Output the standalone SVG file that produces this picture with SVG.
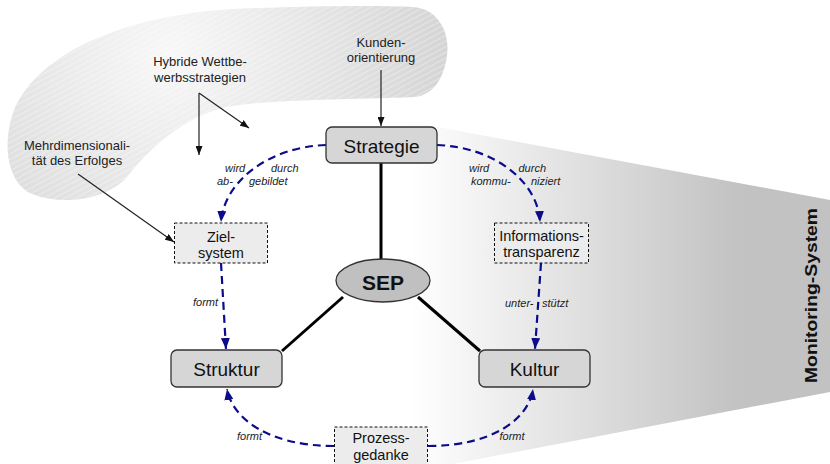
<svg xmlns="http://www.w3.org/2000/svg" width="830" height="464" viewBox="0 0 830 464">
  <defs>
    <linearGradient id="wedgeFill" gradientUnits="userSpaceOnUse" x1="410" y1="0" x2="740" y2="0">
      <stop offset="0" stop-color="#ffffff"/>
      <stop offset="1" stop-color="#c2c2c2"/>
    </linearGradient>
    <radialGradient id="cloudFill" gradientUnits="userSpaceOnUse" cx="170" cy="55" r="300">
      <stop offset="0" stop-color="#f8f8f8"/>
      <stop offset="1" stop-color="#d2d2d2"/>
    </radialGradient>
    <pattern id="cloudStripes" width="5" height="5" patternUnits="userSpaceOnUse" patternTransform="rotate(-28)">
      <line x1="0" y1="0.5" x2="5" y2="0.5" stroke="#ffffff" stroke-opacity="0.45" stroke-width="0.8"/>
    </pattern>
    <marker id="blueHead" markerUnits="userSpaceOnUse" markerWidth="11" markerHeight="9" refX="11" refY="4.5" orient="auto">
      <path d="M0,0 L11,4.5 L0,9 z" fill="#0c0c8a"/>
    </marker>
    <marker id="blackHead" markerUnits="userSpaceOnUse" markerWidth="9" markerHeight="7" refX="9" refY="3.5" orient="auto">
      <path d="M0,0 L9,3.5 L0,7 z" fill="#111"/>
    </marker>
  </defs>
  <style>
    .lbl { font-family: "Liberation Sans", Arial, sans-serif; font-size: 13px; fill: #222; text-anchor: middle; }
    .small { font-family: "Liberation Sans", Arial, sans-serif; font-size: 11px; font-style: italic; fill: #222; }
    .core rect { fill: #d6d6d6; stroke: #333; stroke-width: 1.3; }
    .core text { font-family: "Liberation Sans", Arial, sans-serif; font-size: 19px; fill: #111; text-anchor: middle; }
    .aux rect { fill: #ececec; stroke: #111; stroke-width: 1; stroke-dasharray: 3 2; }
    .aux text { font-family: "Liberation Sans", Arial, sans-serif; font-size: 14.5px; fill: #111; text-anchor: middle; }
    .flow { fill: none; stroke: #0c0c8a; stroke-width: 2.2; stroke-dasharray: 8 5; marker-end: url(#blueHead); }
    .pointer { fill: none; stroke: #222; stroke-width: 1.2; marker-end: url(#blackHead); }
    .spoke { fill: none; stroke: #000; stroke-width: 3; }
  </style>

  <!-- monitoring wedge on the right -->
  <g id="monitoring">
    <polygon points="400,120 830,200 830,392 400,474" fill="url(#wedgeFill)"/>
    <text transform="translate(817,295.5) rotate(-90)" font-family="'Liberation Sans', Arial, sans-serif" font-size="17" font-weight="bold" fill="#111" text-anchor="middle" textLength="175" lengthAdjust="spacingAndGlyphs">Monitoring-System</text>
  </g>

  <!-- influence cloud -->
  <g id="cloud">
    <path d="M233,9 C300,6 380,5 413,7 C440,9 450,35 447,55 C444,80 432,95 415,97 C330,100 262,100 226,107 C182,118 150,148 126,178 C106,200 62,206 32,194 C6,182 2,142 14,110 C40,50 130,15 233,9 Z" fill="url(#cloudFill)"/>
    <path d="M233,9 C300,6 380,5 413,7 C440,9 450,35 447,55 C444,80 432,95 415,97 C330,100 262,100 226,107 C182,118 150,148 126,178 C106,200 62,206 32,194 C6,182 2,142 14,110 C40,50 130,15 233,9 Z" fill="url(#cloudStripes)"/>
  </g>

  <!-- influence labels -->
  <g id="kundenorientierung">
    <text class="lbl" x="381" y="47">Kunden-</text>
    <text class="lbl" x="381" y="62">orientierung</text>
  </g>
  <g id="hybride">
    <text class="lbl" x="200" y="66">Hybride Wettbe-</text>
    <text class="lbl" x="200" y="82">werbsstrategien</text>
  </g>
  <g id="mehrdimensionalitaet">
    <text class="lbl" x="77" y="150">Mehrdimensionali-</text>
    <text class="lbl" x="77" y="165">tät des Erfolges</text>
  </g>

  <!-- connectors -->
  <g id="connectors">
    <path class="spoke" d="M381,163 L381,259"/>
    <path class="spoke" d="M343,297 L282,351"/>
    <path class="spoke" d="M418,297 L480,351"/>

    <path class="pointer" d="M381,70 L381,126"/>
    <path class="pointer" d="M199,93 L199,155"/>
    <path class="pointer" d="M199,93 L249,128"/>
    <path class="pointer" d="M78,174 L174,242"/>

    <path class="flow" d="M326,145 C268,147 224,182 221,222"/>
    <path class="flow" d="M437,145 C495,147 538,182 540,222"/>
    <path class="flow" d="M221,263 L226,349"/>
    <path class="flow" d="M541,263 L535,349"/>
    <path class="flow" d="M334,446 C268,446 232,418 227,389"/>
    <path class="flow" d="M428,446 C494,446 529,418 533,389"/>

    <text class="small" x="225" y="172">wird</text>
    <text class="small" x="271" y="172">durch</text>
    <text class="small" x="217" y="184.5">ab-</text>
    <text class="small" x="249" y="184.5">gebildet</text>

    <text class="small" x="469" y="172">wird</text>
    <text class="small" x="518.5" y="172">durch</text>
    <text class="small" x="471" y="184.5">kommu-</text>
    <text class="small" x="531" y="184.5">niziert</text>

    <text class="small" x="193" y="306">formt</text>
    <text class="small" x="505" y="307">unter-</text>
    <text class="small" x="542" y="307">stützt</text>
    <text class="small" x="237" y="440">formt</text>
    <text class="small" x="499.5" y="440">formt</text>
  </g>

  <!-- nodes -->
  <g id="strategie" class="core">
    <rect x="326" y="127" width="111" height="36" rx="6"/>
    <text x="381.5" y="153">Strategie</text>
  </g>
  <g id="struktur" class="core">
    <rect x="171" y="350" width="111" height="37" rx="6"/>
    <text x="226.5" y="376">Struktur</text>
  </g>
  <g id="kultur" class="core">
    <rect x="479" y="350" width="111" height="37" rx="6"/>
    <text x="534.5" y="376">Kultur</text>
  </g>
  <g id="sep">
    <ellipse cx="383" cy="280.5" rx="47" ry="21.5" fill="#c0c0c0" stroke="#333" stroke-width="1.3"/>
    <text x="383" y="290" font-family="'Liberation Sans', Arial, sans-serif" font-size="21" font-weight="bold" fill="#111" text-anchor="middle">SEP</text>
  </g>
  <g id="zielsystem" class="aux">
    <rect x="174.5" y="223" width="93" height="40"/>
    <text x="221" y="242">Ziel-</text>
    <text x="221" y="257.5">system</text>
  </g>
  <g id="informationstransparenz" class="aux">
    <rect x="494.5" y="223" width="94" height="40"/>
    <text x="541.5" y="240.5">Informations-</text>
    <text x="541.5" y="257">transparenz</text>
  </g>
  <g id="prozessgedanke" class="aux">
    <rect x="334.5" y="427" width="93" height="42"/>
    <text x="381" y="443">Prozess-</text>
    <text x="381" y="460">gedanke</text>
  </g>
</svg>
